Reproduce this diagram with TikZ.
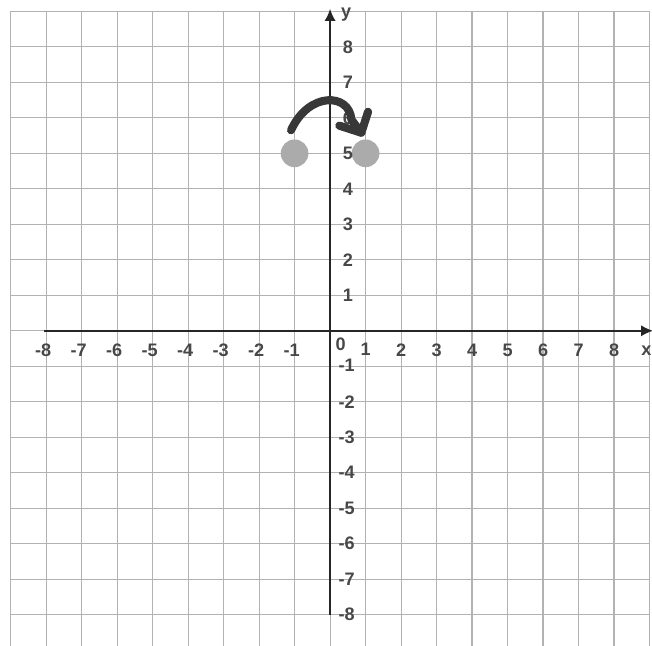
\documentclass[tikz,border=0pt]{standalone}
\usepackage{fontspec}
\setmainfont{Liberation Sans}
\usetikzlibrary{arrows.meta}

\begin{document}
\begin{tikzpicture}[x=1cm,y=1cm,
  gridline/.style={draw=black!30,line width=0.9pt},
  axisline/.style={draw=black!85,line width=1.5pt,-{Latex[length=3.4mm,width=3.2mm]}},
  tick/.style={font=\fontsize{14.5}{16}\selectfont\bfseries,text=black!72,inner sep=0pt},
  pointdot/.style={fill=black!33},
  handstroke/.style={draw=black!78,line width=6.5pt,line cap=round,line join=round}]
\useasboundingbox (-9.30,-8.87) rectangle (9.07,9.32);
\clip (-9.30,-8.87) rectangle (9.07,9.32);
\draw[gridline] (-9,-9) grid (9,9);
\fill[pointdot] (-1,5) circle (0.39);
\fill[pointdot] (1,5) circle (0.39);
\draw[axisline] (-8.05,0) -- (9.1,0);
\draw[axisline] (0,-8) -- (0,9.07);
\node[tick,anchor=east] (xlab) at (9.06,-0.57) {x};
\node[tick] (ylab) at (0.45,8.92) {y};
\node[tick] (xm8) at (-8,-0.55) {\llap{-}8};
\node[tick] (xm7) at (-7,-0.55) {\llap{-}7};
\node[tick] (xm6) at (-6,-0.55) {\llap{-}6};
\node[tick] (xm5) at (-5,-0.55) {\llap{-}5};
\node[tick] (xm4) at (-4,-0.55) {\llap{-}4};
\node[tick] (xm3) at (-3,-0.55) {\llap{-}3};
\node[tick] (xm2) at (-2,-0.55) {\llap{-}2};
\node[tick] (xm1) at (-1,-0.55) {\llap{-}1};
\node[tick] (orig) at (0.3,-0.38) {0};
\node[tick] (xp1) at (1,-0.52) {1};
\node[tick] (xp2) at (2,-0.55) {2};
\node[tick] (xp3) at (3,-0.55) {3};
\node[tick] (xp4) at (4,-0.55) {4};
\node[tick] (xp5) at (5,-0.55) {5};
\node[tick] (xp6) at (6,-0.55) {6};
\node[tick] (xp7) at (7,-0.55) {7};
\node[tick] (xp8) at (8,-0.55) {8};
\node[tick] (yp8) at (0.5,8) {8};
\node[tick] (yp7) at (0.5,7) {7};
\node[tick] (yp6) at (0.5,6) {6};
\node[tick] (yp5) at (0.5,5) {5};
\node[tick] (yp4) at (0.5,4) {4};
\node[tick] (yp3) at (0.5,3) {3};
\node[tick] (yp2) at (0.5,2) {2};
\node[tick] (yp1) at (0.5,1) {1};
\node[tick] (ym1) at (0.55,-0.98) {\llap{-}1};
\node[tick] (ym2) at (0.55,-2) {\llap{-}2};
\node[tick] (ym3) at (0.55,-3) {\llap{-}3};
\node[tick] (ym4) at (0.55,-4) {\llap{-}4};
\node[tick] (ym5) at (0.55,-5) {\llap{-}5};
\node[tick] (ym6) at (0.55,-6) {\llap{-}6};
\node[tick] (ym7) at (0.55,-7) {\llap{-}7};
\node[tick] (ym8) at (0.55,-8) {\llap{-}8};
\coordinate (hopstart) at (-1.1,5.65);
\coordinate (hopend) at (0.88,5.58);
\draw[handstroke] (hopstart) .. controls (-0.6,6.75) and (0.55,6.7) .. (0.6,5.95) -- (hopend);
\draw[handstroke] (0.26,5.78) -- (hopend) -- (1.07,6.17);
\end{tikzpicture}
\end{document}
